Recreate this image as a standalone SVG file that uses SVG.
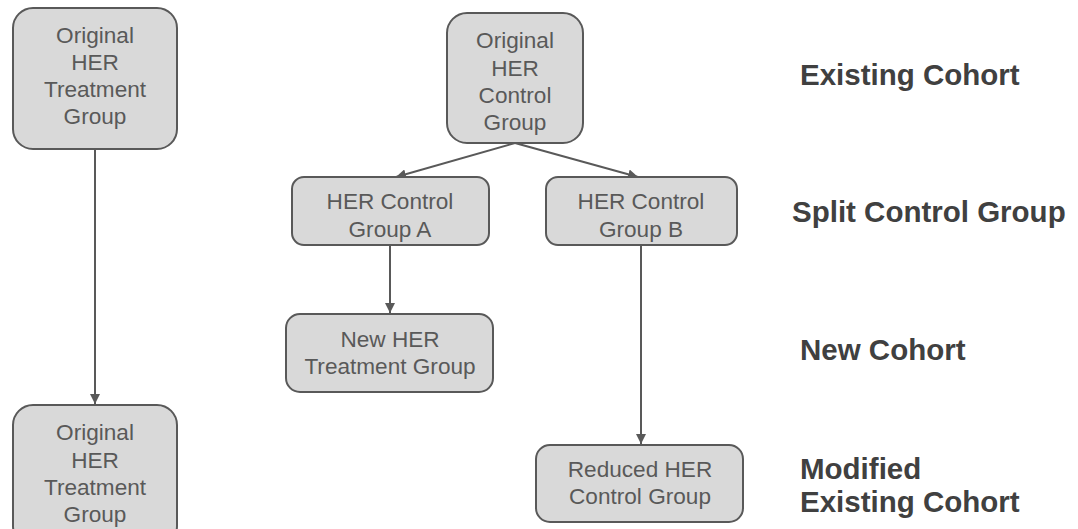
<svg xmlns="http://www.w3.org/2000/svg" width="1078" height="529" viewBox="0 0 1078 529">
<style>
.box{fill:#d9d9d9;stroke:#595959;stroke-width:2}
.t{font-family:"Liberation Sans",Arial,sans-serif;font-size:22.6px;fill:#595959;text-anchor:middle}
.lbl{font-family:"Liberation Sans",Arial,sans-serif;font-size:29.5px;font-weight:bold;fill:#404040}
.c{stroke:#595959;stroke-width:2;fill:none;marker-end:url(#ah)}
</style>
<defs>
<marker id="ah" viewBox="0 0 10 10" refX="10" refY="5" markerWidth="5" markerHeight="5" orient="auto" markerUnits="strokeWidth">
<path d="M0,0 L10,5 L0,10 z" fill="#595959"/>
</marker>
</defs>
<rect width="1078" height="529" fill="#ffffff"/>
<g id="connectors">
<line class="c" x1="95" y1="149" x2="95" y2="404"/>
<line class="c" x1="515" y1="143" x2="396" y2="177"/>
<line class="c" x1="515" y1="143" x2="638" y2="177"/>
<line class="c" x1="390" y1="245" x2="390" y2="313"/>
<line class="c" x1="641" y1="245" x2="641" y2="444"/>
</g>
<g id="n1">
<rect class="box" x="13" y="8" width="164" height="141" rx="20"/>
<text class="t" x="95" y="43">Original</text>
<text class="t" x="95" y="70">HER</text>
<text class="t" x="95" y="97">Treatment</text>
<text class="t" x="95" y="124">Group</text>
</g>
<g id="n2">
<rect class="box" x="13" y="405" width="164" height="141" rx="20"/>
<text class="t" x="95" y="440">Original</text>
<text class="t" x="95" y="468">HER</text>
<text class="t" x="95" y="495">Treatment</text>
<text class="t" x="95" y="522">Group</text>
</g>
<g id="n3">
<rect class="box" x="447" y="13" width="136" height="130" rx="20"/>
<text class="t" x="515" y="48">Original</text>
<text class="t" x="515" y="76">HER</text>
<text class="t" x="515" y="103">Control</text>
<text class="t" x="515" y="130">Group</text>
</g>
<g id="n4">
<rect class="box" x="292" y="177" width="197" height="68" rx="12"/>
<text class="t" x="390" y="209">HER Control</text>
<text class="t" x="390" y="237">Group A</text>
</g>
<g id="n5">
<rect class="box" x="546" y="177" width="191" height="68" rx="12"/>
<text class="t" x="641" y="209">HER Control</text>
<text class="t" x="641" y="237">Group B</text>
</g>
<g id="n6">
<rect class="box" x="286" y="314" width="207" height="78" rx="14"/>
<text class="t" x="390" y="347">New HER</text>
<text class="t" x="390" y="374">Treatment Group</text>
</g>
<g id="n7">
<rect class="box" x="536" y="445" width="207" height="77" rx="14"/>
<text class="t" x="640" y="477">Reduced HER</text>
<text class="t" x="640" y="504">Control Group</text>
</g>
<g id="labels">
<text class="lbl" x="800" y="85">Existing Cohort</text>
<text class="lbl" x="792" y="222">Split Control Group</text>
<text class="lbl" x="800" y="360">New Cohort</text>
<text class="lbl" x="800" y="479">Modified</text>
<text class="lbl" x="800" y="512">Existing Cohort</text>
</g>
</svg>
